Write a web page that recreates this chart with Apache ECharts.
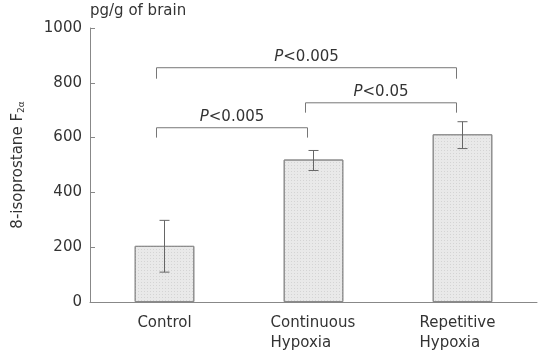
<!DOCTYPE html>
<html>
<head>
<meta charset="utf-8">
<script src="https://cdn.jsdelivr.net/npm/echarts@6/dist/echarts.min.js"></script>
<style>
  html, body { margin: 0; padding: 0; background: #fff; }
  #chart { width: 547px; height: 353px; }
</style>
</head>
<body>
<div id="chart"></div>
<script>
// data
const categories = ["Control", "Continuous\nHypoxia", "Repetitive\nHypoxia"];
const means = [205, 520, 612];
const errLow = [109, 480, 560];
const errHigh = [298, 553, 658];
// significance brackets: [from, to, line y, leg bottom y, label]
const brackets = [
  [0, 2, 855, 815, "P<0.005"],
  [0, 1, 636, 600, "P<0.005"],
  [1, 2, 727, 691, "P<0.05"]
];

const font = "DejaVu Sans";
const chart = echarts.init(document.getElementById("chart"));

const option = {
  animation: false,
  grid: { left: 90, right: 10, top: 28, bottom: 50 },
  graphic: [
    {
      type: "text",
      left: 90,
      top: 4,
      style: { text: "pg/g of brain", fill: "#333", font: "15px " + font }
    }
  ],
  xAxis: {
    type: "category",
    data: categories,
    axisLine: { lineStyle: { color: "#888" } },
    axisTick: { inside: true, length: 2, lineStyle: { color: "#888" } },
    axisLabel: {
      color: "#333",
      fontFamily: font,
      fontSize: 15,
      margin: 11,
      lineHeight: 20,
      formatter(v) {
        if (v.indexOf("\n") < 0) return v;
        return v.split("\n").map(s => "{l|" + s + "}").join("\n");
      },
      rich: { l: { width: 86, align: "left", fontFamily: font, fontSize: 15, color: "#333", lineHeight: 20 } }
    }
  },
  yAxis: {
    type: "value",
    min: 0,
    max: 1000,
    interval: 200,
    name: "8-isoprostane F{sub|2α}",
    nameLocation: "middle",
    nameGap: 64,
    nameTextStyle: {
      color: "#333",
      fontFamily: font,
      fontSize: 15,
      rich: { sub: { fontSize: 9, fontFamily: font, color: "#333", verticalAlign: "bottom", padding: [7, 0, 0, 0] } }
    },
    axisLine: { show: true, lineStyle: { color: "#888" } },
    axisTick: { show: true, inside: true, length: 5, lineStyle: { color: "#888" } },
    splitLine: { show: false },
    axisLabel: { color: "#333", fontFamily: font, fontSize: 15, margin: 8, formatter: v => String(v) }
  },
  series: [
    {
      type: "bar",
      data: means,
      barWidth: "40%",
      itemStyle: {
        color: "#e9e9e9",
        borderColor: "#8a8a8a",
        borderWidth: 1,
        decal: { symbol: "rect", symbolSize: 1, dashArrayX: [1, 2], dashArrayY: [1, 2], color: "#d4d4d4" }
      }
    },
    {
      type: "custom",
      data: means.map((m, i) => [i, errLow[i], errHigh[i]]),
      z: 5,
      renderItem(params, api) {
        const lo = api.coord([api.value(0), api.value(1)]);
        const hi = api.coord([api.value(0), api.value(2)]);
        const w = 5;
        const st = { stroke: "#666", lineWidth: 1 };
        return {
          type: "group",
          children: [
            { type: "line", shape: { x1: lo[0], y1: lo[1], x2: hi[0], y2: hi[1] }, style: st },
            { type: "line", shape: { x1: lo[0] - w, y1: lo[1], x2: lo[0] + w, y2: lo[1] }, style: st },
            { type: "line", shape: { x1: hi[0] - w, y1: hi[1], x2: hi[0] + w, y2: hi[1] }, style: st }
          ]
        };
      }
    },
    {
      type: "custom",
      data: brackets.map(b => [b[0], b[1], b[2], b[3]]),
      z: 5,
      renderItem(params, api) {
        const b = brackets[params.dataIndex];
        const a = api.coord([b[0], b[2]]);
        const c = api.coord([b[1], b[2]]);
        const foot = api.coord([b[0], b[3]]);
        const x1 = a[0] - 8, x2 = c[0] - 6;
        const st = { stroke: "#777", lineWidth: 1, fill: null };
        return {
          type: "group",
          children: [
            {
              type: "polyline",
              shape: { points: [[x1, foot[1]], [x1, a[1]], [x2, a[1]], [x2, foot[1]]] },
              style: st
            },
            {
              type: "text",
              x: (x1 + x2) / 2,
              y: a[1] - 3,
              style: {
                text: "{i|P}" + b[4].slice(1),
                align: "center",
                verticalAlign: "bottom",
                fill: "#333",
                font: "15px " + font,
                rich: { i: { fontStyle: "italic", fontFamily: font, fontSize: 15, fill: "#333" } }
              }
            }
          ]
        };
      }
    }
  ]
};
chart.setOption(option);
</script>
</body>
</html>
